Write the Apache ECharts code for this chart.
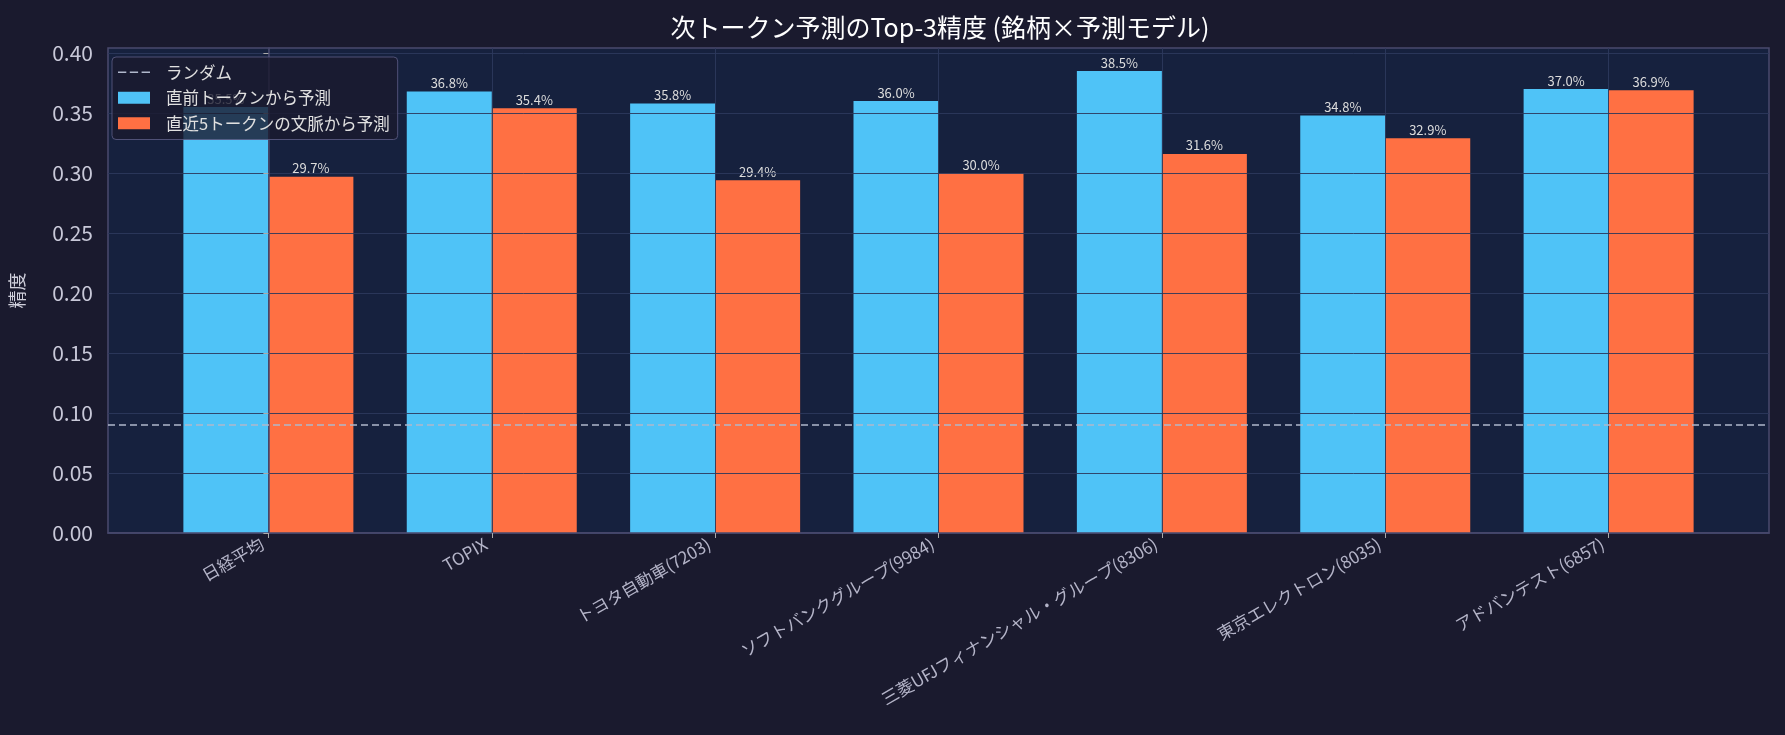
<!DOCTYPE html>
<html>
<head>
<meta charset="utf-8">
<script src="https://cdn.jsdelivr.net/npm/echarts@6/dist/echarts.min.js"></script>
<style>
html,body{margin:0;padding:0;background:#1a1a2e;}
#chart{width:1785px;height:735px;}
</style>
</head>
<body>
<div id="chart"></div>
<script>
const categories = ['日経平均','TOPIX','トヨタ自動車(7203)','ソフトバンクグループ(9984)','三菱UFJフィナンシャル・グループ(8306)','東京エレクトロン(8035)','アドバンテスト(6857)'];
const prevToken = [0.355, 0.368, 0.358, 0.360, 0.385, 0.348, 0.370];
const ctx5 = [0.297, 0.354, 0.294, 0.300, 0.316, 0.329, 0.369];
const randomBaseline = 0.0935;
const yTicks = [0, 0.05, 0.10, 0.15, 0.20, 0.25, 0.30, 0.35, 0.40];
const seriesNames = ['ランダム', '直前トークンから予測', '直近5トークンの文脈から予測'];

const FONT = '"Noto Sans CJK JP", "Noto Sans", sans-serif';
const idx = categories.map((c, i) => i);
const gridCol = 'rgba(44,56,92,0.9)';
const frameCol = '#4a4a6e';
const dashCol = '#b0b8cc';

const chart = echarts.init(document.getElementById('chart'));
const labelFmt = p => (p.value[1] * 100).toFixed(1) + '%';

chart.setOption({
  backgroundColor: '#1a1a2e',
  textStyle: { fontFamily: FONT },
  title: {
    text: '次トークン予測のTop-3精度 (銘柄×予測モデル)',
    left: 935, top: 10, textAlign: 'center',
    textStyle: { color: '#ffffff', fontSize: 25, fontWeight: 'normal', fontFamily: FONT }
  },
  legend: {
    data: [
      { name: seriesNames[0], icon: 'path://M0,0h8.3v1.5H0z M11.8,0h8.3v1.5h-8.3z M23.6,0h8.4v1.5h-8.4z', itemStyle: { color: dashCol } },
      { name: seriesNames[1], icon: 'rect' },
      { name: seriesNames[2], icon: 'rect' }
    ],
    orient: 'vertical',
    left: 112, top: 57,
    itemWidth: 32, itemHeight: 12, itemGap: 9,
    padding: [7, 8, 8, 6],
    backgroundColor: 'rgba(26,26,46,0.8)',
    borderColor: 'rgba(90,90,130,0.85)', borderWidth: 1, borderRadius: 4,
    textStyle: { color: '#e0e0e0', fontSize: 16.5, fontFamily: FONT, padding: [0, 0, 0, 11] },
    z: 10
  },
  grid: {
    left: 102, right: 16, top: 48, bottom: 202,
    show: true, backgroundColor: '#16213e', borderColor: frameCol, borderWidth: 1.5
  },
  xAxis: {
    type: 'value', min: -0.718, max: 6.718, z: 3,
    axisLine: { show: true, onZero: false, lineStyle: { color: frameCol, width: 1.5 } },
    axisTick: { show: true, customValues: idx, length: 5, lineStyle: { color: '#aaaaaa' } },
    axisLabel: {
      customValues: idx, rotate: 30, margin: 6, fontSize: 17, color: '#b4b4c8', fontFamily: FONT,
      padding: [0, 7, 0, 0],
      formatter: v => categories[Math.round(v)]
    },
    splitLine: { show: true, lineStyle: { color: gridCol, width: 1 } }
  },
  yAxis: {
    type: 'value', min: 0, max: 0.40425, interval: 0.05, z: 3,
    name: '精度', nameLocation: 'middle', nameRotate: 90, nameGap: 82,
    nameTextStyle: { color: '#d0d0dc', fontSize: 18, fontFamily: FONT },
    axisLine: { show: true, lineStyle: { color: frameCol, width: 1.5 } },
    axisTick: { show: true, customValues: yTicks, length: 5, lineStyle: { color: '#aaaaaa' } },
    axisLabel: {
      customValues: yTicks, margin: 15, fontSize: 21, color: '#c8c8d8', fontFamily: FONT,
      formatter: v => v.toFixed(2)
    },
    splitLine: { show: true, lineStyle: { color: gridCol, width: 1 } }
  },
  series: [
    {
      name: seriesNames[1], type: 'bar', barWidth: 85, barGap: '0%',
      data: idx.map(i => [i, prevToken[i]]),
      itemStyle: { color: '#4fc3f7' },
      label: { show: true, position: 'top', distance: 2, formatter: labelFmt, color: '#dcdcdc', fontSize: 13, fontFamily: FONT }
    },
    {
      name: seriesNames[2], type: 'bar', barWidth: 85, barGap: '0%',
      data: idx.map(i => [i, ctx5[i]]),
      itemStyle: { color: '#ff7043' },
      label: { show: true, position: 'top', distance: 2, formatter: labelFmt, color: '#dcdcdc', fontSize: 13, fontFamily: FONT }
    },
    {
      name: seriesNames[0], type: 'line', data: [], symbol: 'none', showSymbol: false, z: 5,
      itemStyle: { color: dashCol },
      lineStyle: { type: [7, 4], color: dashCol, width: 1.5 },
      markLine: {
        silent: true, symbol: ['none', 'none'], label: { show: false },
        lineStyle: { type: [7, 4], color: dashCol, width: 1.5 },
        data: [{ yAxis: randomBaseline }]
      }
    }
  ]
});
</script>
</body>
</html>
